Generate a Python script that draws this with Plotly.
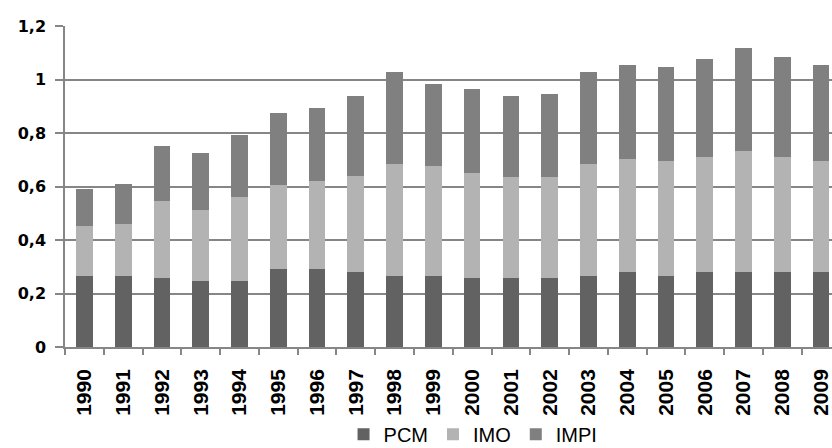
import plotly.graph_objects as go

years = [str(y) for y in range(1990, 2010)]
pcm = [0.266, 0.266, 0.259, 0.247, 0.247, 0.292, 0.292, 0.281, 0.266, 0.266,
       0.259, 0.259, 0.259, 0.266, 0.281, 0.266, 0.281, 0.281, 0.281, 0.281]
imo = [0.188, 0.195, 0.285, 0.267, 0.315, 0.312, 0.327, 0.360, 0.420, 0.409,
       0.393, 0.375, 0.375, 0.420, 0.420, 0.428, 0.431, 0.450, 0.431, 0.413]
impi = [0.138, 0.150, 0.206, 0.210, 0.229, 0.270, 0.273, 0.296, 0.341, 0.307,
        0.312, 0.303, 0.311, 0.341, 0.353, 0.352, 0.364, 0.386, 0.372, 0.360]
y_ticks = [0, 0.2, 0.4, 0.6, 0.8, 1.0, 1.2]
y_labels = ["0", "0,2", "0,4", "0,6", "0,8", "1", "1,2"]

grid = "#868686"
fig = go.Figure()
fig.add_trace(go.Bar(x=years, y=pcm, name="PCM", marker_color="#626262", marker_line_width=0))
fig.add_trace(go.Bar(x=years, y=imo, name="IMO", marker_color="#b3b3b3", marker_line_width=0))
fig.add_trace(go.Bar(x=years, y=impi, name="IMPI", marker_color="#808080", marker_line_width=0))

fig.update_layout(
    width=832, height=448,
    barmode="stack", bargap=0.57,
    plot_bgcolor="white", paper_bgcolor="white",
    margin=dict(l=65, r=0, t=26, b=101, autoexpand=False),
    font=dict(family="Liberation Sans", color="black"),
    legend=dict(orientation="h", x=0.532, xanchor="center", y=-0.272, yanchor="middle",
                font=dict(size=20), traceorder="normal", itemwidth=30),
    showlegend=True,
)
fig.update_xaxes(
    type="category", range=[-0.5, 19.28], automargin=False,
    showline=True, linecolor=grid, linewidth=1.5,
    ticks="outside", tickson="boundaries", ticklen=6, tickcolor=grid, tickwidth=1.5,
    tickangle=-90, ticklabelstandoff=12,
    tickfont=dict(size=21, family="Liberation Sans", weight="bold"),
    showgrid=False,
)
fig.update_yaxes(
    range=[0, 1.2], tickvals=y_ticks, ticktext=y_labels, automargin=False,
    showgrid=True, gridcolor=grid, gridwidth=1.5,
    showline=True, linecolor=grid, linewidth=1.5,
    ticks="outside", ticklen=8, tickcolor=grid, tickwidth=1.5,
    ticklabelstandoff=6,
    tickfont=dict(size=16, family="DejaVu Sans", weight="bold"),
    zeroline=False,
)

fig.write_html("out.html", config={"displayModeBar": False},
               post_script="document.body.style.margin='0px';")
